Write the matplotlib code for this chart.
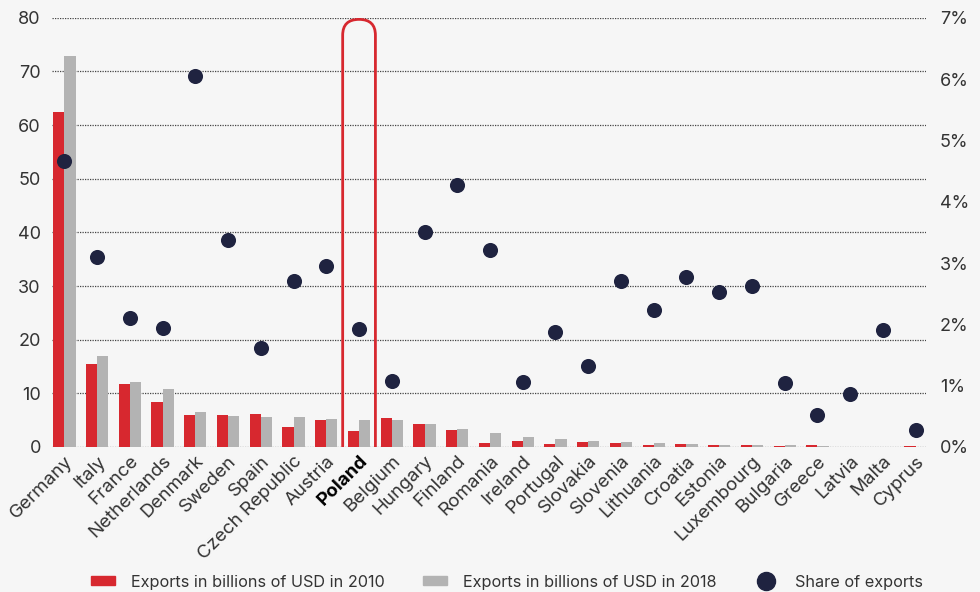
import numpy as np
import matplotlib
matplotlib.use("Agg")
import matplotlib.pyplot as plt
from matplotlib.patches import FancyBboxPatch
from matplotlib.lines import Line2D
from matplotlib.patches import Patch

countries = ["Germany", "Italy", "France", "Netherlands", "Denmark", "Sweden", "Spain",
             "Czech Republic", "Austria", "Poland", "Belgium", "Hungary", "Finland",
             "Romania", "Ireland", "Portugal", "Slovakia", "Slovenia", "Lithuania",
             "Croatia", "Estonia", "Luxembourg", "Bulgaria", "Greece", "Latvia",
             "Malta", "Cyprus"]
exports_2010 = [62.4, 15.4, 11.8, 8.3, 6.0, 5.9, 6.1, 3.7, 5.1, 2.9, 5.4, 4.2, 3.2,
                0.8, 1.2, 0.6, 0.9, 0.7, 0.37, 0.56, 0.4, 0.45, 0.2, 0.3, 0.08,
                0.05, 0.2]
exports_2018 = [72.8, 17.0, 12.1, 10.8, 6.6, 5.7, 5.6, 5.5, 5.2, 5.0, 5.0, 4.3, 3.3,
                2.6, 1.8, 1.4, 1.2, 1.0, 0.8, 0.5, 0.45, 0.4, 0.35, 0.15, 0.08,
                0.05, 0.05]
share_pct = [4.67, 3.10, 2.11, 1.94, 6.05, 3.37, 1.62, 2.70, 2.95, 1.92, 1.08, 3.50,
             4.28, 3.21, 1.06, 1.87, 1.32, 2.70, 2.24, 2.78, 2.53, 2.62, 1.05, 0.52,
             0.87, 1.91, 0.28]
highlight = "Poland"

red = "#d7282f"
grey = "#b3b3b3"
navy = "#1f2340"
bg = "#f6f6f6"
txt = "#333333"

plt.rcParams["font.family"] = ["Inter", "DejaVu Sans"]

fig = plt.figure(figsize=(9.8, 5.92), dpi=100, facecolor=bg)
ax = fig.add_axes([0.053, 0.245, 0.892, 0.725], facecolor=bg)
ax2 = ax.twinx()

x = np.arange(len(countries))
w = 0.34
ax.bar(x - w / 2, exports_2010, w, color=red, zorder=3)
ax.bar(x + w / 2, exports_2018, w, color=grey, zorder=3)

ax.set_ylim(0, 80)
ax.set_xlim(-0.38, len(countries) - 1 + 0.32)
ax.set_yticks(range(0, 81, 10))
ax.yaxis.grid(True, linestyle=(0, (1, 1)), color="#444444", linewidth=0.9, zorder=0)
ax.set_axisbelow(True)

ax2.set_ylim(0, 7)
ax2.set_yticks(range(0, 8))
ax2.set_yticklabels([f"{v}%" for v in range(0, 8)])
ax2.scatter(x, share_pct, s=118, color=navy, zorder=5, linewidths=0)

for a in (ax, ax2):
    for s in a.spines.values():
        s.set_visible(False)
    a.tick_params(length=0, labelsize=13, colors=txt)
ax.tick_params(axis="y", pad=8)
ax2.tick_params(axis="y", pad=10)

ax.set_xticks(x)
ax.set_xticklabels(countries, rotation=45, ha="right", rotation_mode="anchor",
                   fontsize=13.5)
ax.tick_params(axis="x", pad=4)
for lbl in ax.get_xticklabels():
    if lbl.get_text() == highlight:
        lbl.set_fontweight("bold")
        lbl.set_color("black")

# rounded outline around the highlighted country
i = countries.index(highlight)
x_px = 31.56
y_px = 429 / 80
box = FancyBboxPatch((i - 0.5, -10), 1.0, 89.7,
                     boxstyle="round,pad=0,rounding_size=0.5",
                     mutation_aspect=x_px / y_px,
                     fill=False, edgecolor=red, linewidth=2, zorder=4,
                     transform=ax.transData, clip_on=True)
ax.add_patch(box)
box.set_clip_path(ax.patch)

handles = [Patch(color=red), Patch(color=grey),
           Line2D([], [], marker="o", linestyle="", color=navy, markersize=13)]
labels = ["Exports in billions of USD in 2010", "Exports in billions of USD in 2018",
          "Share of exports"]
fig.legend(handles, labels, loc="center", bbox_to_anchor=(0.517, 10 / 592), ncol=3,
           frameon=False, fontsize=11.7, handlelength=1.5, handleheight=0.5,
           handletextpad=1.0, columnspacing=2.3, labelcolor=txt)

fig.savefig("out.png", dpi=100, facecolor=bg)
